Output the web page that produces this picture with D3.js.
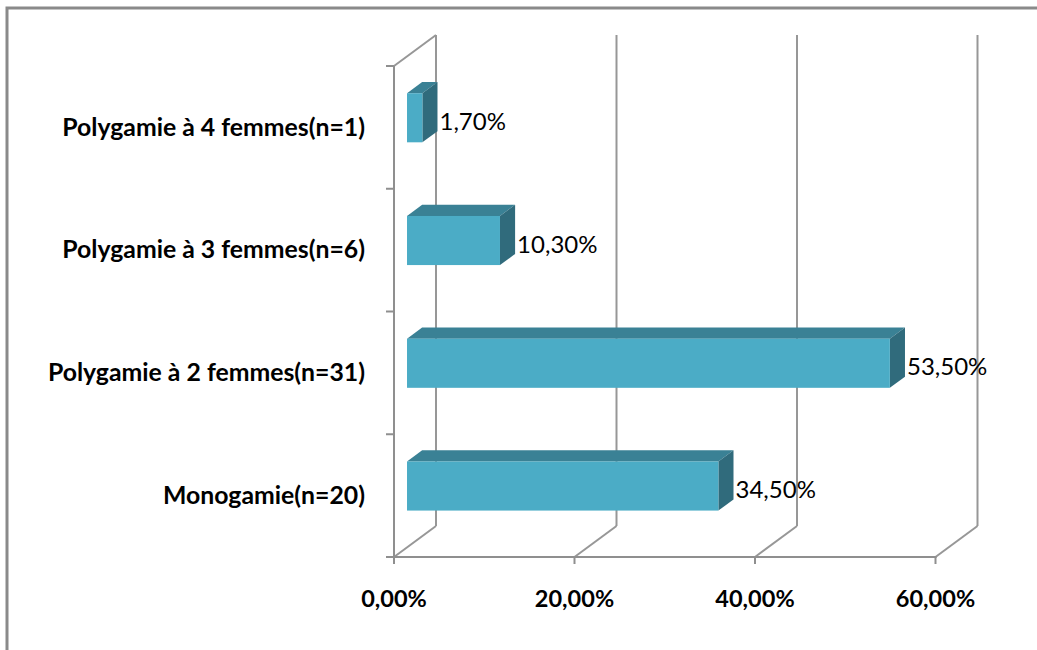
<!DOCTYPE html>
<html>
<head>
<meta charset="utf-8">
<script src="https://cdn.jsdelivr.net/npm/d3@7"></script>
<style>
  html, body { margin: 0; padding: 0; background: #fff; }
  svg { display: block; }
</style>
</head>
<body>
<svg id="chart" width="1037" height="650"></svg>
<script>
// ---- data ----
const categories = [
  "Monogamie(n=20)",
  "Polygamie à 2 femmes(n=31)",
  "Polygamie à 3 femmes(n=6)",
  "Polygamie à 4 femmes(n=1)"
];
const values = [34.5, 53.5, 10.3, 1.7];
const tickValues = [0, 20, 40, 60];

// ---- layout ----
const W = 1037, H = 650;
const plot = { left: 394, right: 935.5, top: 66, bottom: 557 };
const depthX = 42, depthY = -31;          // 3D depth of the wall
const barF0 = 0.31, barF1 = 0.67;         // bar front/back position within depth
const gridColor = "#979797";
const axisColor = "#8f8f8f";
const frontColor = "#4bacc6", topColor = "#3a8195", sideColor = "#306b7c";
const fontFam = "Lato, 'DejaVu Sans', sans-serif";

const locale = d3.formatLocale({ decimal: ",", thousands: " ", grouping: [3], currency: ["", "€"] });
const fmtPct = locale.format(".2f");

const svg = d3.select("#chart");
svg.append("rect").attr("width", W).attr("height", H).attr("fill", "#fff");

// outer border (top & left visible)
svg.append("path")
  .attr("d", `M7,${H} L7,8 L${W},8`)
  .attr("fill", "none").attr("stroke", "#8a8a8a").attr("stroke-width", 3);

const x = d3.scaleLinear().domain([0, 60]).range([plot.left, plot.right]);
const y = d3.scaleBand().domain(categories).range([plot.bottom, plot.top])
  .paddingInner(0.6).paddingOuter(0.3);

const g = svg.append("g");

// back wall vertical gridlines
g.selectAll("line.grid").data(tickValues).join("line")
  .attr("class", "grid")
  .attr("x1", d => x(d) + depthX).attr("x2", d => x(d) + depthX)
  .attr("y1", plot.top + depthY).attr("y2", plot.bottom + depthY)
  .attr("stroke", gridColor).attr("stroke-width", 2);

// floor diagonals
g.selectAll("line.floor").data(tickValues).join("line")
  .attr("class", "floor")
  .attr("x1", d => x(d)).attr("y1", plot.bottom)
  .attr("x2", d => x(d) + depthX).attr("y2", plot.bottom + depthY)
  .attr("stroke", gridColor).attr("stroke-width", 2);

// left wall top diagonal
g.append("line")
  .attr("x1", plot.left).attr("y1", plot.top)
  .attr("x2", plot.left + depthX).attr("y2", plot.top + depthY)
  .attr("stroke", gridColor).attr("stroke-width", 2);

// front axes
g.append("line")
  .attr("x1", plot.left).attr("x2", plot.left)
  .attr("y1", plot.top).attr("y2", plot.bottom)
  .attr("stroke", axisColor).attr("stroke-width", 2);
g.append("line")
  .attr("x1", plot.left - 8).attr("x2", x(60) + 1)
  .attr("y1", plot.bottom).attr("y2", plot.bottom)
  .attr("stroke", axisColor).attr("stroke-width", 2);

// category ticks (band boundaries)
const step = y.step();
const bounds = d3.range(categories.length + 1).map(i => plot.top + i * step);
g.selectAll("line.ytick").data(bounds).join("line")
  .attr("class", "ytick")
  .attr("x1", plot.left - 8).attr("x2", plot.left)
  .attr("y1", d => d).attr("y2", d => d)
  .attr("stroke", axisColor).attr("stroke-width", 2);

// value ticks
g.selectAll("line.xtick").data(tickValues).join("line")
  .attr("class", "xtick")
  .attr("x1", d => x(d)).attr("x2", d => x(d))
  .attr("y1", plot.bottom).attr("y2", plot.bottom + 7)
  .attr("stroke", axisColor).attr("stroke-width", 2);

// x tick labels
g.selectAll("text.xlab").data(tickValues).join("text")
  .attr("class", "xlab")
  .attr("x", d => x(d)).attr("y", 601)
  .attr("text-anchor", "middle").attr("dominant-baseline", "middle")
  .attr("font-family", fontFam).attr("font-weight", "bold").attr("font-size", 23.5)
  .attr("fill", "#000")
  .text(d => fmtPct(d) + "%");

// category labels
g.selectAll("text.ylab").data(categories).join("text")
  .attr("class", "ylab")
  .attr("x", plot.left - 29)
  .attr("y", d => y(d) + y.bandwidth() / 2 + 2)
  .attr("text-anchor", "end").attr("dominant-baseline", "middle")
  .attr("font-family", fontFam).attr("font-weight", "bold").attr("font-size", 24.8)
  .attr("fill", "#000")
  .text(d => d);

// bars
const data = categories.map((c, i) => ({ c, v: values[i] }));
const fx0 = depthX * barF0, fy0 = depthY * barF0;
const fx1 = depthX * barF1, fy1 = depthY * barF1;
const ddx = fx1 - fx0, ddy = fy1 - fy0;

const bars = g.selectAll("g.bar").data(data).join("g").attr("class", "bar");
bars.each(function(d) {
  const sel = d3.select(this);
  const xa = x(0) + fx0, xb = x(d.v) + fx0;
  const yt = y(d.c) + fy0, yb = y(d.c) + y.bandwidth() + fy0;
  // top face
  sel.append("path")
    .attr("d", `M${xa},${yt} L${xb},${yt} L${xb + ddx},${yt + ddy} L${xa + ddx},${yt + ddy} Z`)
    .attr("fill", topColor);
  // side face
  sel.append("path")
    .attr("d", `M${xb},${yt} L${xb + ddx},${yt + ddy} L${xb + ddx},${yb + ddy} L${xb},${yb} Z`)
    .attr("fill", sideColor);
  // front face
  sel.append("rect")
    .attr("x", xa).attr("y", yt)
    .attr("width", xb - xa).attr("height", yb - yt)
    .attr("fill", frontColor);
  // value label
  sel.append("text")
    .attr("x", xb + ddx + 2)
    .attr("y", (yt + yb) / 2 + 6)
    .attr("dominant-baseline", "middle")
    .attr("font-family", fontFam).attr("font-size", 24)
    .attr("fill", "#000")
    .text(fmtPct(d.v) + "%");
});
</script>
</body>
</html>
